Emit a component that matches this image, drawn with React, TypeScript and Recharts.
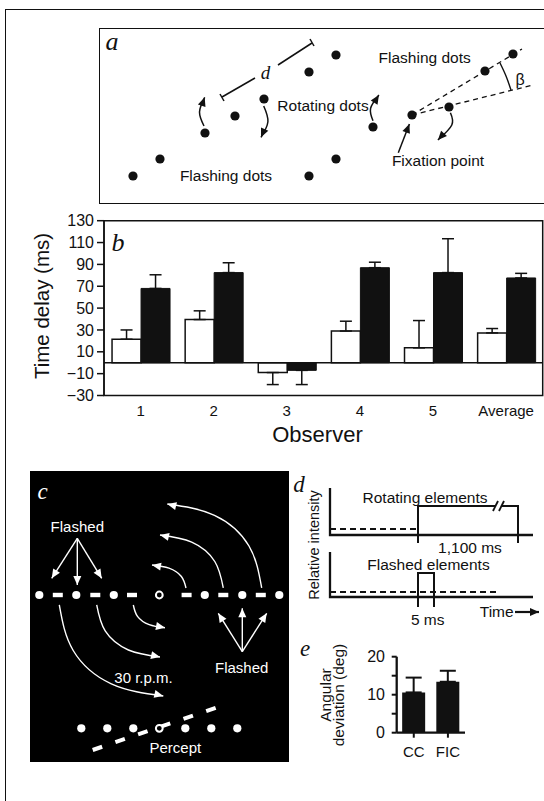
import React from "react";
import {
  Bar,
  BarChart,
  ComposedChart,
  ErrorBar,
  Line,
  ReferenceArea,
  ReferenceLine,
  Scatter,
  XAxis,
  YAxis,
} from "recharts";

// ---- panel b: time delay per observer ----
const observers = ["1", "2", "3", "4", "5", "Average"];
const openDelay = [21.5, 39.5, -9, 29, 13.6, 27.3];
const openSem = [8.5, 8, 11, 9, 25, 4];
const filledDelay = [68, 82.5, -7, 87, 82.5, 77.6];
const filledSem = [12.5, 9, 13, 5, 31, 4.2];
const delayTicks = [-30, -10, 10, 30, 50, 70, 90, 110, 130];

// ---- panel e: angular deviation ----
const conditions = ["CC", "FIC"];
const deviation = [10.6, 13.4];
const deviationSem = [3.9, 2.9];
const deviationTicks = [0, 5, 10, 15, 20];

// ---- panel a: stimulus layout (diagram units) ----
const aFlashDots = [[34, 148], [61, 131], [210, 148], [237, 131], [210, 44], [237, 27], [386, 43], [414, 26]];
const aRotDots = [[106, 105], [136, 88], [165, 71], [274, 99], [313, 87], [350, 79]];
const aDashed = [[[313, 87], [423, 21]], [[313, 87], [434, 57]]];
const aRuler = [[[123, 69], [156, 50]], [[179, 37], [213, 15]], [[121, 66], [125, 73]], [[211, 11], [215, 18]]];
const aBeta = [[401, 35], [407, 48], [412, 62]];
// curved arrows, tail -> tip
const aArcs = [
  [[105, 98], [100.5, 84], [105.7, 69.3]],
  [[164.7, 78], [168.9, 93.7], [162, 109.3]],
  [[274, 92.7], [271.6, 80.3], [279.9, 67]],
  [[351.4, 84.7], [352.8, 97], [338.9, 112]],
];
const aPointers = [[[299.3, 124.7], [310.4, 96]]];

// ---- panel c: rotating bar demo ----
const cRowDots = [[9.3, 124], [46.3, 124], [83.8, 124], [174.8, 124], [212.3, 124], [249.3, 124]];
const cRowDashes = [[27.8, 124], [65.3, 124], [102, 124], [156.6, 124], [193.3, 124], [230.8, 124]];
const cCenters = [[129.3, 124], [129.3, 257.3]];
const cPerceptDots = [[51.3, 257.3], [77.3, 257.3], [103.3, 257.3], [155.3, 257.3], [181.3, 257.3], [207.3, 257.3]];
const cPerceptBar = [[62.7, 279], [196.7, 233]];
// curved arrows, tail -> tip
const cArcs = [
  [[156, 117], [151.4, 105.5], [139, 97.1], [122, 94]],
  [[193.3, 117], [184.8, 90.5], [161.7, 71.1], [130, 64]],
  [[231.7, 117], [219, 75], [184.5, 44.3], [137.3, 33]],
  [[103.3, 134], [107.5, 145.4], [119.2, 153.7], [135, 156.7]],
  [[66.7, 134], [75.2, 160], [98.4, 179], [130, 186]],
  [[29.3, 134], [43.2, 179.5], [81.3, 212.8], [133.3, 225]],
];
const cPointers = [
  [[47.3, 67.3], [21.7, 107.3]],
  [[47.3, 67.3], [47.3, 114]],
  [[47.3, 67.3], [71.7, 107.3]],
  [[212.3, 180.7], [188.3, 142.3]],
  [[212.3, 180.7], [212.3, 137.3]],
  [[212.3, 180.7], [236.7, 142.3]],
];

// ---- panel d: timing ----
const dAxes = [[[0, 8], [0, 55], [203, 55]], [[0, 72], [0, 117], [203, 117]]];
const dBaselines = [[[0, 49], [88, 49]], [[0, 112], [170, 112]]];
const dRotating = [[[88, 63], [88, 26], [165.5, 26]], [[171.5, 26], [188, 26], [188, 63]]];
const dBreak = [[[163, 31], [168, 21]], [[169, 31], [174, 21]]];
const dFlash = [[88, 127], [88, 93], [104, 93], [104, 127]];
const dTime = [[[185, 132], [209, 132]]];

const SANS = "'Liberation Sans', Arial, sans-serif";
const SERIF = "'Liberation Serif', 'Times New Roman', serif";
const INK = "#111";

const toPts = (arr: number[][]) => arr.map(([x, y]) => ({ x, y }));
const minus = (v: number) => (v < 0 ? `\u2212${-v}` : String(v));

function path(key: string, arr: number[][], color: string, width: number, curve: any = "linear", dash?: string) {
  return (
    <Line
      key={key}
      data={toPts(arr)}
      dataKey="y"
      type={curve}
      stroke={color}
      strokeWidth={width}
      strokeDasharray={dash}
      dot={false}
      activeDot={false}
      legendType="none"
      isAnimationActive={false}
    />
  );
}

function marks(key: string, arr: number[][], shape: (p: any) => any) {
  return <Scatter key={key} data={toPts(arr)} shape={shape} legendType="none" isAnimationActive={false} />;
}

function heads(key: string, list: { x: number; y: number; angle: number }[], color: string) {
  return (
    <Scatter
      key={key}
      data={list}
      legendType="none"
      isAnimationActive={false}
      shape={(p: any) => (
        <polygon
          points="0,0 -9,-4 -9,4"
          transform={`translate(${p.cx},${p.cy}) rotate(${p.payload.angle})`}
          fill={color}
        />
      )}
    />
  );
}

// arrowhead at the last point, pointing along the last segment
const tipsOf = (list: number[][][]) =>
  list.map((l) => {
    const [x0, y0] = l[l.length - 2];
    const [x1, y1] = l[l.length - 1];
    return { x: x1, y: y1, angle: (Math.atan2(y1 - y0, x1 - x0) * 180) / Math.PI };
  });

function Diagram({ left, top, width, height, pad = 8, children }: any) {
  return (
    <div style={{ position: "absolute", left: left - pad, top: top - pad }}>
      <ComposedChart width={width + 2 * pad} height={height + 2 * pad} margin={{ top: 0, right: 0, bottom: 0, left: 0 }}>
        <XAxis type="number" dataKey="x" domain={[-pad, width + pad]} hide allowDataOverflow />
        <YAxis type="number" dataKey="y" domain={[-pad, height + pad]} reversed hide allowDataOverflow />
        {children}
      </ComposedChart>
    </div>
  );
}

function Txt({ x, y, size = 15.5, color = INK, italic = false, serif = false, rotate = 0, lineHeight = 1, children }: any) {
  return (
    <div
      style={{
        position: "absolute",
        left: x,
        top: y,
        transform: `translate(-50%, -50%) rotate(${rotate}deg)`,
        fontFamily: serif ? SERIF : SANS,
        fontStyle: italic ? "italic" : "normal",
        fontSize: size,
        lineHeight,
        color,
        whiteSpace: "pre",
        textAlign: "center",
      }}
    >
      {children}
    </div>
  );
}

export default function App() {
  const delayRows = observers.map((name, i) => ({
    name,
    idx: i,
    open: openDelay[i],
    openErr: openDelay[i] < 0 ? [openSem[i], 0] : [0, openSem[i]],
    filled: filledDelay[i],
    filledErr: filledDelay[i] < 0 ? [filledSem[i], 0] : [0, filledSem[i]],
  }));
  const devRows = conditions.map((name, i) => ({ name, value: deviation[i], err: [0, deviationSem[i]] }));

  const black = (p: any) => <circle cx={p.cx} cy={p.cy} r={4.6} fill={INK} />;
  const white = (p: any) => <circle cx={p.cx} cy={p.cy} r={4.1} fill="#fff" />;
  const ring = (p: any) => <circle cx={p.cx} cy={p.cy} r={3.4} fill="#000" stroke="#fff" strokeWidth={2} />;
  const dash = (p: any) => <rect x={p.cx - 5} y={p.cy - 2.2} width={10} height={4.4} fill="#fff" />;

  return (
    <div style={{ position: "absolute", left: 0, top: 0, width: 544, height: 801, overflow: "hidden", background: "#fff" }}>
      {/* outer figure frame */}
      <div style={{ position: "absolute", left: 5, top: 9, width: 600, height: 900, borderTop: `1.5px solid ${INK}`, borderLeft: `1.5px solid ${INK}` }} />

      {/* panel a */}
      <div style={{ position: "absolute", left: 98.5, top: 27.5, width: 470, height: 176, border: `1.5px solid ${INK}`, boxSizing: "border-box" }} />
      <Diagram left={99} top={28} width={445} height={175}>
        {aDashed.map((l, i) => path(`ad${i}`, l, INK, 1.3, "linear", "5 4"))}
        {aRuler.map((l, i) => path(`ar${i}`, l, INK, 1.5))}
        {path("abeta", aBeta, INK, 1.4, "natural")}
        {aArcs.map((l, i) => path(`aa${i}`, l, INK, 1.5, "natural"))}
        {aPointers.map((l, i) => path(`ap${i}`, l, INK, 1.5))}
        {marks("afd", aFlashDots, black)}
        {marks("ard", aRotDots, black)}
        {heads("aah", tipsOf([...aArcs, ...aPointers]), INK)}
      </Diagram>
      <Txt x={112} y={42} size={26} italic serif>a</Txt>
      <Txt x={265.4} y={71.7} size={19} italic serif>d</Txt>
      <Txt x={323} y={106}>Rotating dots</Txt>
      <Txt x={424.7} y={58.3}>Flashing dots</Txt>
      <Txt x={226} y={175.7}>Flashing dots</Txt>
      <Txt x={438} y={161}>Fixation point</Txt>
      <Txt x={520} y={80} size={16}>β</Txt>

      {/* panel b */}
      <div style={{ position: "absolute", left: 0, top: 200 }}>
        <BarChart
          width={544}
          height={240}
          data={delayRows}
          margin={{ top: 20.7, right: 1.3, bottom: 42.5, left: 0 }}
          barCategoryGap="11%"
          barGap={0}
        >
          <XAxis
            dataKey="name"
            interval={0}
            tickLine={false}
            tickSize={0}
            tickMargin={10}
            axisLine={false}
            height={1}
            tick={{ fontSize: 15, fill: INK, fontFamily: SANS }}
          />
          <XAxis
            xAxisId="div"
            type="number"
            dataKey="idx"
            domain={[0, 6]}
            ticks={[0, 1, 2, 3, 4, 5, 6]}
            interval={0}
            allowDataOverflow
            tick={false}
            tickSize={6}
            axisLine={false}
            height={1}
            tickLine={{ stroke: INK, strokeWidth: 1.5 }}
          />
          <YAxis
            domain={[-30, 130]}
            ticks={delayTicks}
            interval={0}
            allowDataOverflow
            width={104}
            tickSize={7}
            tickMargin={3}
            tickFormatter={minus}
            axisLine={{ stroke: INK, strokeWidth: 1.5 }}
            tickLine={{ stroke: INK, strokeWidth: 1.5 }}
            tick={{ fontSize: 16, fill: INK, fontFamily: SANS }}
          />
          <ReferenceArea y1={-30} y2={130} fill="none" stroke={INK} strokeWidth={1.5} ifOverflow="visible" />
          <ReferenceLine y={0} stroke={INK} strokeWidth={1.5} />
          <Bar dataKey="open" fill="#fff" stroke={INK} strokeWidth={1.5} isAnimationActive={false}>
            <ErrorBar dataKey="openErr" width={6} stroke={INK} strokeWidth={1.5} />
          </Bar>
          <Bar dataKey="filled" fill={INK} stroke={INK} strokeWidth={1} isAnimationActive={false}>
            <ErrorBar dataKey="filledErr" width={6} stroke={INK} strokeWidth={1.5} />
          </Bar>
        </BarChart>
      </div>
      <Txt x={118} y={243} size={26} italic serif>b</Txt>
      <Txt x={41.7} y={306} size={20.5} rotate={-90}>Time delay (ms)</Txt>
      <Txt x={317.5} y={434.5} size={22}>Observer</Txt>

      {/* panel c */}
      <div style={{ position: "absolute", left: 30, top: 471, width: 259.3, height: 290.7, background: "#000" }} />
      <Diagram left={30} top={471} width={259.3} height={290.7}>
        {cArcs.map((l, i) => path(`ca${i}`, l, "#fff", 1.4, "natural"))}
        {cPointers.map((l, i) => path(`cp${i}`, l, "#fff", 1.4))}
        {path("cbar", cPerceptBar, "#fff", 4, "linear", "10 14")}
        {marks("crd", cRowDots, white)}
        {marks("crs", cRowDashes, dash)}
        {marks("cpd", cPerceptDots, white)}
        {marks("cc", cCenters, ring)}
        {heads("cah", tipsOf([...cArcs, ...cPointers]), "#fff")}
      </Diagram>
      <Txt x={42.7} y={490.7} size={23} italic serif color="#fff">c</Txt>
      <Txt x={77.3} y={526} size={15} color="#fff">Flashed</Txt>
      <Txt x={241.7} y={666.7} size={15} color="#fff">Flashed</Txt>
      <Txt x={143.5} y={676.7} size={15} color="#fff">30 r.p.m.</Txt>
      <Txt x={175.3} y={746.7} size={15} color="#fff">Percept</Txt>

      {/* panel d */}
      <Diagram left={330} top={480} width={214} height={140}>
        {dAxes.map((l, i) => path(`dx${i}`, l, INK, 2.3))}
        {dBaselines.map((l, i) => path(`db${i}`, l, INK, 2, "linear", "6 4"))}
        {dRotating.map((l, i) => path(`dr${i}`, l, INK, 2))}
        {dBreak.map((l, i) => path(`dk${i}`, l, INK, 1.8))}
        {path("df", dFlash, INK, 2)}
        {dTime.map((l, i) => path(`dt${i}`, l, INK, 2.2))}
        {heads("dth", tipsOf(dTime), INK)}
      </Diagram>
      <Txt x={299} y={484} size={23} italic serif>d</Txt>
      <Txt x={314} y={545} size={14.5} rotate={-90}>Relative intensity</Txt>
      <Txt x={425} y={498}>Rotating elements</Txt>
      <Txt x={470} y={548}>1,100 ms</Txt>
      <Txt x={428.5} y={565}>Flashed elements</Txt>
      <Txt x={427.7} y={620}>5 ms</Txt>
      <Txt x={496.7} y={611.7}>Time</Txt>

      {/* panel e */}
      <div style={{ position: "absolute", left: 340, top: 640 }}>
        <BarChart width={130} height={130} data={devRows} margin={{ top: 16.7, right: 5, bottom: 0, left: 0 }} barCategoryGap="16%">
          <XAxis
            dataKey="name"
            interval={0}
            height={37.3}
            tickSize={5}
            tickMargin={8.7}
            axisLine={{ stroke: INK, strokeWidth: 2.3 }}
            tickLine={{ stroke: INK, strokeWidth: 2 }}
            tick={{ fontSize: 15, fill: INK, fontFamily: SANS }}
          />
          <YAxis
            domain={[0, 20]}
            ticks={deviationTicks}
            interval={0}
            allowDataOverflow
            width={56.7}
            tickSize={5}
            tickMargin={6.7}
            tickFormatter={(v: number) => (v % 10 === 0 ? String(v) : "")}
            axisLine={{ stroke: INK, strokeWidth: 2.3 }}
            tickLine={{ stroke: INK, strokeWidth: 2 }}
            tick={{ fontSize: 16, fill: INK, fontFamily: SANS }}
          />
          <Bar dataKey="value" fill={INK} isAnimationActive={false}>
            <ErrorBar dataKey="err" width={8} stroke={INK} strokeWidth={2} />
          </Bar>
        </BarChart>
      </div>
      <Txt x={305} y={648} size={23} italic serif>e</Txt>
      <Txt x={331.5} y={695} size={15.5} rotate={-90} lineHeight="13px">{"Angular\ndeviation (deg)"}</Txt>
    </div>
  );
}
